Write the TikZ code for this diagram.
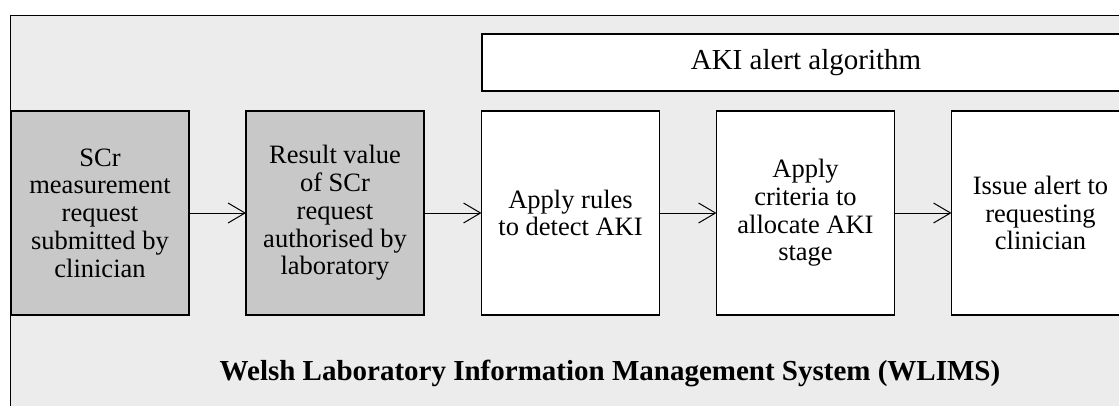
\documentclass[tikz,border=0pt]{standalone}
\usepackage{fontspec}
\setmainfont{Liberation Serif}
\usetikzlibrary{arrows.meta}
\definecolor{bgray}{HTML}{ECECEC}
\definecolor{boxgray}{HTML}{C8C8C8}
\begin{document}
\begin{tikzpicture}[x=1pt,y=-1pt,
  stepbox/.style={draw, line width=1.6pt, minimum width=178pt, minimum height=204pt, inner sep=0pt, outer sep=0pt, align=center, font=\fontsize{26.5}{27.7}\selectfont},
  graybox/.style={stepbox, fill=boxgray},
  whitebox/.style={stepbox, fill=white},
  flow/.style={-{Straight Barb[length=17pt,width=20pt,line width=1pt]}, line width=1pt}]
\useasboundingbox (0,0) rectangle (1119,405);
\fill[bgray] (10,15) rectangle (1130,410);
\draw[line width=1pt] (1130,15) -- (10,15) -- (10,410);
\node[graybox] (b1) at (100,213) {SCr\\measurement\\request\\submitted by\\clinician};
\node[graybox] (b2) at (335,213) {Result value\\of SCr\\request\\authorised by\\laboratory};
\node[whitebox] (b3) at (570.5,213) {Apply rules\\to detect AKI};
\node[whitebox] (b4) at (805.5,213) {Apply\\criteria to\\allocate AKI\\stage};
\node[whitebox] (b5) at (1040.5,213) {Issue alert to\\requesting\\clinician};
\node[whitebox, minimum width=648pt, minimum height=57pt, font=\fontsize{29}{32}\selectfont] (aki) at (806,62.5) {AKI alert algorithm};
\node[font=\bfseries\fontsize{29}{32}\selectfont, anchor=base] (wlims) at (610,380) {Welsh Laboratory Information Management System (WLIMS)};
\draw[flow] (b1) -- (b2);
\draw[flow] (b2) -- (b3);
\draw[flow] (b3) -- (b4);
\draw[flow] (b4) -- (b5);
\end{tikzpicture}
\end{document}
